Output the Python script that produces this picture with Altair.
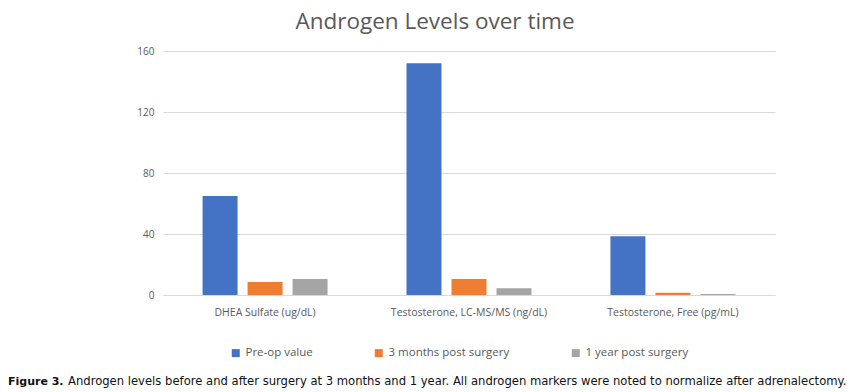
import altair as alt
import pandas as pd

categories = ["DHEA Sulfate (ug/dL)", "Testosterone, LC-MS/MS (ng/dL)", "Testosterone, Free (pg/mL)"]
series = ["Pre-op value", "3 months post surgery", "1 year post surgery"]
pre_op = [65, 152, 38.5]
three_months = [8.5, 10.5, 1.5]
one_year = [10.5, 4.5, 0.6]
colors = ["#4472C4", "#ED7D31", "#A5A5A5"]

rows = []
for i, c in enumerate(categories):
    for s, vals in zip(series, [pre_op, three_months, one_year]):
        rows.append({"category": c, "series": s, "value": vals[i]})
df = pd.DataFrame(rows)

W, H = 612, 244
grey = "#595959"
cap_font = "DejaVu Sans, sans-serif"

bars = alt.Chart(df).mark_bar().encode(
    x=alt.X("category:N", sort=categories, title=None,
            scale=alt.Scale(paddingInner=0.387, paddingOuter=0.194),
            axis=alt.Axis(labelAngle=0, labelFontSize=10.5, labelColor=grey,
                          labelFont="Open Sans", ticks=False, domain=True,
                          domainColor="#D9D9D9", labelPadding=12)),
    xOffset=alt.XOffset("series:N", sort=series,
                        scale=alt.Scale(paddingInner=0.222, paddingOuter=0)),
    y=alt.Y("value:Q", title=None,
            scale=alt.Scale(domain=[0, 160], nice=False),
            axis=alt.Axis(values=[0, 40, 80, 120, 160], labelFontSize=10,
                          labelColor=grey, labelFont="Open Sans", ticks=False,
                          domain=False, gridColor="#D9D9D9", labelPadding=9)),
    color=alt.Color("series:N", sort=series,
                    scale=alt.Scale(domain=series, range=colors),
                    legend=alt.Legend(title=None, orient="none", direction="horizontal",
                                      legendX=67, legendY=296, symbolType="square",
                                      symbolSize=64, symbolStrokeWidth=0,
                                      labelFontSize=11.5, labelColor=grey,
                                      labelFont="Open Sans", columnPadding=60,
                                      labelOffset=4)),
)

cap_bold = alt.Chart(alt.Data(values=[{"t": "Figure 3."}])).mark_text(
    align="left", baseline="alphabetic", fontWeight="bold", fontSize=11,
    font=cap_font, color="#111111"
).encode(x=alt.value(-155), y=alt.value(334), text="t:N")

cap_text = alt.Chart(alt.Data(values=[{"t": "Androgen levels before and after surgery at 3 months and 1 year. All androgen markers were noted to normalize after adrenalectomy."}])).mark_text(
    align="left", baseline="alphabetic", fontSize=11.6,
    font=cap_font, color="#111111"
).encode(x=alt.value(-95), y=alt.value(334), text="t:N")

chart = alt.layer(bars, cap_bold, cap_text).properties(
    width=W, height=H,
    title=alt.TitleParams("Androgen Levels over time", fontSize=22.5, font="Open Sans",
                          fontWeight="normal", color=grey, anchor="middle",
                          dx=-34, offset=13),
    autosize=alt.AutoSizeParams(type="none"),
    padding={"left": 155, "top": 43, "right": 82, "bottom": 93},
).configure_view(stroke=None)

chart.save("out.html", embed_options={"renderer": "svg", "actions": False})
